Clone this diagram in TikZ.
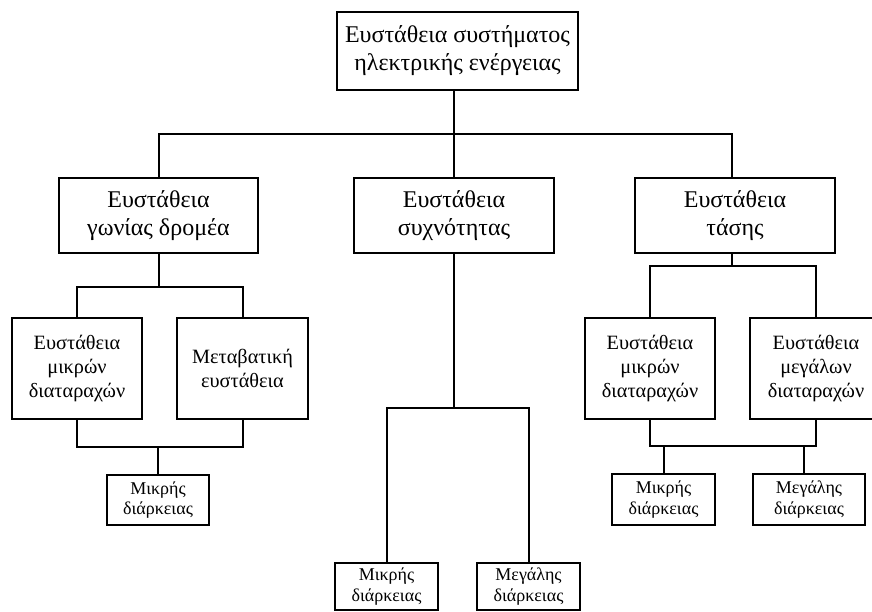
\documentclass[tikz,border=0pt]{standalone}
\usepackage{fontspec}
\setmainfont{Liberation Serif}
\begin{document}
\begin{tikzpicture}[x=1pt,y=-1pt,line width=2pt,
  box/.style={draw,align=center,inner sep=0pt,line width=2pt},
  big/.style={box,font=\fontsize{24}{28}\selectfont},
  mid/.style={box,font=\fontsize{20.3}{23.7}\selectfont},
  small/.style={box,font=\fontsize{18}{20.5}\selectfont}]
\useasboundingbox (0,0) rectangle (872,612);
\clip (0,0) rectangle (872,612);

% top level
\node[big,minimum width=241,minimum height=78] (sys) at (457.5,51)
  {Ευστάθεια συστήματος\\ηλεκτρικής ενέργειας};

% second level
\node[big,minimum width=199,minimum height=75] (rot) at (158.5,215.5)
  {Ευστάθεια\\γωνίας δρομέα};
\node[big,minimum width=200,minimum height=75] (freq) at (454,215.5)
  {Ευστάθεια\\συχνότητας};
\node[big,minimum width=200,minimum height=75] (volt) at (735,215.5)
  {Ευστάθεια\\τάσης};

% third level
\node[mid,minimum width=130,minimum height=101] (rsd) at (77,368.5)
  {Ευστάθεια\\μικρών\\διαταραχών};
\node[mid,minimum width=131,minimum height=101] (trn) at (242.5,368.5)
  {Μεταβατική\\ευστάθεια};
\node[mid,minimum width=130,minimum height=101] (vsd) at (650,368.5)
  {Ευστάθεια\\μικρών\\διαταραχών};
\node[mid,minimum width=132,minimum height=101] (vld) at (816,368.5)
  {Ευστάθεια\\μεγάλων\\διαταραχών};

% duration boxes
\node[small,minimum width=102,minimum height=50] (rshort) at (158,500)
  {Μικρής\\διάρκειας};
\node[small,minimum width=103,minimum height=47] (fshort) at (386.5,586.5)
  {Μικρής\\διάρκειας};
\node[small,minimum width=103,minimum height=47] (flong) at (528.5,586.5)
  {Μεγάλης\\διάρκειας};
\node[small,minimum width=103,minimum height=51] (vshort) at (663.5,499.5)
  {Μικρής\\διάρκειας};
\node[small,minimum width=112,minimum height=51] (vlong) at (809,499.5)
  {Μεγάλης\\διάρκειας};

% junction points
\coordinate (j0) at (454,134);
\coordinate (jv) at (732,134);
\coordinate (jr) at (158.5,287);
\coordinate (jr2) at (158,447);
\coordinate (jf) at (454,408);
\coordinate (jvt) at (732,266);
\coordinate (jv2) at (733,446);
\coordinate (jv3) at (804,446);

% connectors
\draw (sys.south -| j0) -- (j0);
\draw (rot.north) |- (j0) -- (jv) -- (jv |- volt.north);
\draw (j0) -- (freq.north);

\draw (rot.south) -- (jr);
\draw (rsd.north) |- (jr) -| (trn.north);
\draw (rsd.south) |- (jr2) -| (trn.south);
\draw (jr2) -- (rshort.north);

\draw (freq.south) -- (jf);
\draw (fshort.north) |- (jf) -| (flong.north);

\draw (volt.south -| jvt) -- (jvt);
\draw (vsd.north) |- (jvt) -| (vld.north);
\draw (vsd.south) |- (jv2) -| (vld.south);
\draw (vshort.north) |- (jv2);
\draw (jv3) -- (jv3 |- vlong.north);
\end{tikzpicture}
\end{document}
